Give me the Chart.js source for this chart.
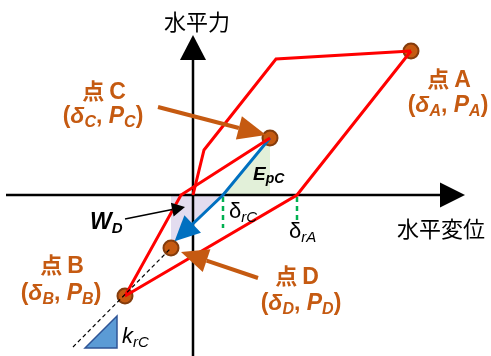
<!DOCTYPE html>
<html>
<head>
<meta charset="utf-8">
<script src="https://cdn.jsdelivr.net/npm/chart.js@4/dist/chart.umd.min.js"></script>
<style>
  html, body { margin: 0; padding: 0; background: #ffffff; }
  canvas { display: block; }
</style>
</head>
<body>
<canvas id="chart" width="491" height="356"></canvas>
<script>
// Hysteresis model: horizontal displacement (x) vs horizontal force (y)
const origin      = [0, 0];
const crackPoint  = [1.1, 4.5];
const yieldPoint  = [8.3, 13.6];
const pointA      = [21.8, 14.4];
const pointB      = [-6.8, -10.1];
const pointC      = [7.7, 5.7];
const pointD      = [-2.2, -5.3];
const deltaRA     = 10.4;          // residual displacement after unloading from A
const deltaRC     = 3.0;           // residual displacement after unloading from C
const reloadZero  = -1.2;          // zero-force crossing of the reloading branch B -> C
const unloadTip   = [-1.55, -4.35]; // end of the unloading arrow from C
const krcFrom     = [-12.0, -15.2]; // start of the k_rC reference line through D

// branches of the loop
const skeletonBranch = [origin, crackPoint, yieldPoint, pointA];
const unloadABranch  = [pointA, [deltaRA, 0], pointB];
const reloadCBranch  = [pointB, [reloadZero, 0], pointC];
const unloadCBranch  = [pointC, [deltaRC, 0], unloadTip];
const krcLine        = [krcFrom, pointD];
const keyPoints      = [pointA, pointB, pointC, pointD];

// shaded energies
const epcArea = [[deltaRC, 0], pointC, [pointC[0], 0]];
const wdArea  = [[pointD[0], 0], [deltaRC, 0], [-1.75, -4.5], [pointD[0], -4.5]];

const toXY = arr => arr.map(([x, y]) => ({ x, y }));

const ORANGE = '#c55a11';
const SANS = '"Liberation Sans", Arial, "Noto Sans CJK JP", sans-serif';
const CJK = '"Noto Sans CJK JP", "Noto Sans CJK SC", sans-serif';

function arrowHead(ctx, x0, y0, x1, y1, len, half, color) {
  const a = Math.atan2(y1 - y0, x1 - x0);
  const bx = x1 - len * Math.cos(a), by = y1 - len * Math.sin(a);
  ctx.beginPath();
  ctx.moveTo(x1, y1);
  ctx.lineTo(bx + half * Math.sin(a), by - half * Math.cos(a));
  ctx.lineTo(bx - half * Math.sin(a), by + half * Math.cos(a));
  ctx.closePath();
  ctx.fillStyle = color;
  ctx.fill();
  return [bx, by];
}

function arrow(ctx, p0, p1, width, len, half, color) {
  const [bx, by] = arrowHead(ctx, p0[0], p0[1], p1[0], p1[1], len, half, color);
  ctx.beginPath();
  ctx.moveTo(p0[0], p0[1]);
  ctx.lineTo(bx, by);
  ctx.strokeStyle = color;
  ctx.lineWidth = width;
  ctx.lineCap = 'butt';
  ctx.stroke();
}

// runs: [text, font, baseline shift]
function rich(ctx, runs, x, y, align, color) {
  let w = 0;
  runs.forEach(r => { ctx.font = r[1]; w += ctx.measureText(r[0]).width; });
  let cx = align === 'center' ? x - w / 2 : x;
  ctx.fillStyle = color;
  ctx.textBaseline = 'alphabetic';
  ctx.textAlign = 'left';
  runs.forEach(r => {
    ctx.font = r[1];
    ctx.fillText(r[0], cx, y + (r[2] || 0));
    cx += ctx.measureText(r[0]).width;
  });
}

function pointLabel(ctx, letter, cx1, y1, cx2, y2) {
  const big = 'bold 23px ' + SANS;
  const bigI = 'italic bold 23px ' + SANS;
  const sub = 'italic bold 16px ' + SANS;
  rich(ctx, [['点 ', 'bold 22px ' + CJK], [letter, big]], cx1, y1, 'center', ORANGE);
  rich(ctx, [['(', big], ['δ', bigI], [letter, sub, 4], [', ', big], ['P', bigI], [letter, sub, 4], [')', big]],
       cx2, y2, 'center', ORANGE);
}

const decorations = {
  id: 'decorations',
  beforeDatasetsDraw(chart) {
    const { ctx } = chart;
    const xs = chart.scales.x, ys = chart.scales.y;
    const P = ([x, y]) => [xs.getPixelForValue(x), ys.getPixelForValue(y)];
    const poly = (pts, fill) => {
      ctx.beginPath();
      pts.map(P).forEach(([px, py], i) => i ? ctx.lineTo(px, py) : ctx.moveTo(px, py));
      ctx.closePath();
      ctx.fillStyle = fill;
      ctx.fill();
    };
    ctx.save();
    poly(epcArea, '#e2f0d9');
    poly(wdArea, '#e3dcef');

    // residual displacement markers
    ctx.setLineDash([5, 4]);
    ctx.strokeStyle = '#00b050';
    ctx.lineWidth = 2.5;
    [[deltaRC, -0.2, -3.3], [deltaRA, -0.2, -2.7]].forEach(([x, y0, y1]) => {
      const a = P([x, y0]), b = P([x, y1]);
      ctx.beginPath(); ctx.moveTo(a[0], a[1]); ctx.lineTo(b[0], b[1]); ctx.stroke();
    });
    ctx.setLineDash([]);

    // axes
    arrow(ctx, P([-18.7, 0]), P([27.2, 0]), 2.5, 25, 12.5, '#000');
    arrow(ctx, P([0, -16.2]), P([0, 16.0]), 2.5, 25, 13, '#000');
    ctx.restore();
  },
  afterDatasetsDraw(chart) {
    const { ctx } = chart;
    const xs = chart.scales.x, ys = chart.scales.y;
    const P = ([x, y]) => [xs.getPixelForValue(x), ys.getPixelForValue(y)];
    ctx.save();

    // unloading direction from C
    const b0 = P([deltaRC, 0]), b1 = P(unloadTip);
    const ang = Math.atan2(b1[1] - b0[1], b1[0] - b0[0]);
    arrowHead(ctx, b0[0], b0[1], b1[0] + 4 * Math.cos(ang), b1[1] + 4 * Math.sin(ang), 25, 12, '#0070c0');

    // k_rC slope triangle
    ctx.beginPath();
    [[-10.8, -15.3], [-7.6, -12.1], [-7.6, -15.3]].map(P)
      .forEach(([px, py], i) => i ? ctx.lineTo(px, py) : ctx.moveTo(px, py));
    ctx.closePath();
    ctx.fillStyle = '#5b9bd5';
    ctx.fill();
    ctx.strokeStyle = '#2f5597';
    ctx.lineWidth = 1.5;
    ctx.stroke();

    // callout arrows
    arrow(ctx, P([-3.5, 8.8]), P([7.3, 6.0]), 4, 28, 12, ORANGE);
    arrow(ctx, P([6.5, -8.3]), P([-1.2, -5.7]), 4, 27, 12, ORANGE);
    arrow(ctx, P([-6.8, -2.4]), P([-0.8, -1.2]), 1.5, 13, 7, '#000');

    // axis titles
    ctx.fillStyle = '#000';
    ctx.textBaseline = 'middle';
    ctx.textAlign = 'center';
    ctx.font = '22px ' + CJK;
    ctx.fillText('水平力', 197, 22);
    ctx.fillText('水平変位', 441, 229);

    // point labels
    pointLabel(ctx, 'A', 449, 87, 448, 112);
    pointLabel(ctx, 'C', 104, 99, 103, 123);
    pointLabel(ctx, 'B', 62, 273, 61, 300);
    pointLabel(ctx, 'D', 297, 284, 301, 310);

    // quantity labels
    rich(ctx, [['δ', '22px ' + SANS], ['rC', 'italic 15px ' + SANS, 4]], 229, 218, 'left', '#000');
    rich(ctx, [['δ', '22px ' + SANS], ['rA', 'italic 15px ' + SANS, 4]], 289, 238, 'left', '#000');
    rich(ctx, [['E', 'italic bold 19px ' + SANS], ['pC', 'italic bold 14px ' + SANS, 3]], 253, 180, 'left', '#000');
    rich(ctx, [['W', 'italic bold 23px ' + SANS], ['D', 'italic bold 15px ' + SANS, 4]], 90, 229, 'left', '#000');
    rich(ctx, [['k', 'italic 22px ' + SANS], ['rC', 'italic 15px ' + SANS, 4]], 122, 343, 'left', '#000');
    ctx.restore();
  }
};

const lineSet = (pts, color, width, dash) => ({
  data: toXY(pts),
  showLine: true,
  borderColor: color,
  borderWidth: width,
  borderDash: dash || [],
  pointRadius: 0,
  fill: false,
  tension: 0
});

new Chart(document.getElementById('chart'), {
  type: 'scatter',
  data: {
    datasets: [
      lineSet(krcLine, '#000', 1.2, [4, 3]),
      lineSet(skeletonBranch, '#ff0000', 3),
      lineSet(unloadABranch, '#ff0000', 3),
      lineSet(reloadCBranch, '#ff0000', 3),
      lineSet(unloadCBranch, '#0070c0', 3),
      {
        data: toXY(keyPoints),
        showLine: false,
        pointRadius: 7.5,
        pointBackgroundColor: ORANGE,
        pointBorderColor: '#843c0c',
        pointBorderWidth: 2
      }
    ]
  },
  options: {
    responsive: false,
    animation: false,
    devicePixelRatio: 1,
    events: [],
    layout: { padding: 0, autoPadding: false },
    plugins: { legend: { display: false }, tooltip: { enabled: false } },
    scales: {
      x: { type: 'linear', display: false, min: -19.3, max: 29.8 },
      y: { type: 'linear', display: false, min: -16.1, max: 19.5 }
    }
  },
  plugins: [decorations]
});
</script>
</body>
</html>
